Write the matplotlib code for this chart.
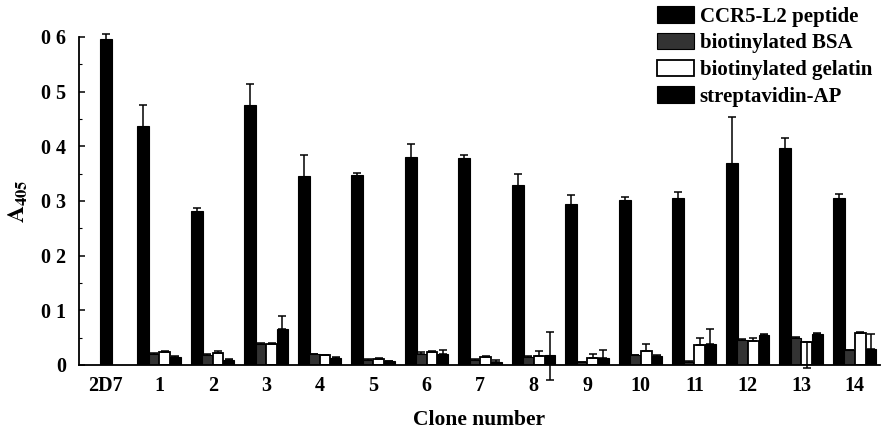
import numpy as np
import matplotlib
matplotlib.use("Agg")
import matplotlib.pyplot as plt

plt.rcParams['font.family'] = ['Liberation Serif', 'DejaVu Serif']
plt.rcParams['mathtext.fontset'] = 'stix'

# 数据：克隆编号与四种包被物的 A405 读数
clones = ['2D7', '1', '2', '3', '4', '5', '6', '7', '8', '9', '10', '11', '12', '13', '14']
series_names = ['CCR5-L2 peptide', 'biotinylated BSA', 'biotinylated gelatin', 'streptavidin-AP']

ccr5 = [0.596, 0.437, 0.282, 0.476, 0.345, 0.348, 0.380, 0.378, 0.330, 0.294,
        0.301, 0.305, 0.370, 0.397, 0.305]
ccr5_err = [0.009, 0.038, 0.006, 0.038, 0.039, 0.004, 0.025, 0.007, 0.020, 0.017,
            0.007, 0.011, 0.084, 0.019, 0.007]

bsa = [0, 0.020, 0.018, 0.038, 0.020, 0.010, 0.021, 0.010, 0.015, 0.005,
       0.018, 0.006, 0.045, 0.049, 0.027]
bsa_err = [0, 0.002, 0.002, 0.002, 0.001, 0.001, 0.002, 0.001, 0.001, 0.001,
           0.001, 0.001, 0.002, 0.002, 0.001]

gelatin = [0, 0.024, 0.022, 0.038, 0.018, 0.011, 0.024, 0.014, 0.016, 0.012,
           0.025, 0.037, 0.044, 0.042, 0.058]
gelatin_err = [0, 0.002, 0.003, 0.002, 0.001, 0.001, 0.002, 0.002, 0.010, 0.009,
               0.013, 0.012, 0.005, 0.0, 0.003]
gelatin_err_lo = [0, 0, 0, 0, 0, 0, 0, 0, 0, 0, 0, 0, 0, 0.047, 0]

strep = [0, 0.015, 0.010, 0.065, 0.013, 0.007, 0.020, 0.006, 0.018, 0.013,
         0.016, 0.038, 0.055, 0.057, 0.030]
strep_err = [0, 0.001, 0.001, 0.025, 0.001, 0.001, 0.007, 0.003, 0.042, 0.014,
             0.002, 0.028, 0.002, 0.002, 0.026]
strep_err_lo = [0, 0, 0, 0, 0, 0, 0, 0, 0.045, 0, 0, 0, 0, 0, 0]

yticks = [0, 0.1, 0.2, 0.3, 0.4, 0.5, 0.6]
ytick_labels = ['0', '0 1', '0 2', '0 3', '0 4', '0 5', '0 6']


fig = plt.figure(figsize=(8.87, 4.34), dpi=100, facecolor='white')
ax = fig.add_axes([79 / 887, 69 / 434, 801 / 887, 328 / 434])

centers = np.arange(len(clones))
w = 0.2
offsets = [-0.3, -0.1, 0.1, 0.3]
# 2D7 只有一根柱子，居中放置
ccr5_x = np.where(centers == 0, centers, centers + offsets[0])

ebar = dict(fmt='none', ecolor='black', elinewidth=1.1, capsize=3, capthick=1.1, clip_on=False)

h1 = ax.bar(ccr5_x, ccr5, width=0.22, color='black', edgecolor='black', lw=0.8)
ax.errorbar(ccr5_x, ccr5, yerr=[ccr5_err, ccr5_err], **ebar)

rest = centers[1:]
h2 = ax.bar(rest + offsets[1], bsa[1:], width=w, color='#333333', edgecolor='black', lw=0.8)
ax.errorbar(rest + offsets[1], bsa[1:], yerr=[np.zeros(len(rest)), bsa_err[1:]], **ebar)

h3 = ax.bar(rest + offsets[2], gelatin[1:], width=w, color='white', edgecolor='black', lw=1.3)
ax.errorbar(rest + offsets[2], gelatin[1:], yerr=[gelatin_err_lo[1:], gelatin_err[1:]], **ebar)

h4 = ax.bar(rest + offsets[3], strep[1:], width=w, color='black', edgecolor='black', lw=0.8)
ax.errorbar(rest + offsets[3], strep[1:], yerr=[strep_err_lo[1:], strep_err[1:]], **ebar)

ax.set_xlim(-0.5, 14.47)
ax.set_ylim(0, 0.6)

ax.spines['top'].set_visible(False)
ax.spines['right'].set_visible(False)
ax.spines['left'].set_linewidth(1.3)
ax.spines['bottom'].set_linewidth(1.3)

ax.set_xticks(centers)
ax.set_xticklabels(clones, fontsize=14.5, fontweight='bold')
ax.tick_params(axis='x', length=0, pad=8)

ax.set_yticks(yticks)
ax.set_yticklabels(ytick_labels, fontsize=14.5, fontweight='bold')
ax.set_yticks(np.arange(0.05, 0.6, 0.1), minor=True)
ax.tick_params(axis='y', which='major', direction='in', length=4, width=1.1, pad=9)
ax.tick_params(axis='y', which='minor', direction='in', length=2, width=0.8)

ax.set_xlabel('Clone number', fontsize=15.5, fontweight='bold', labelpad=10)
ax.set_ylabel(r'$\mathbf{A_{405}}$', fontsize=17, labelpad=8)

ax.legend([h1, h2, h3, h4], series_names, loc='upper left',
          bbox_to_anchor=(655 / 887, 1 - 4 / 434), bbox_transform=fig.transFigure,
          frameon=False, prop={'size': 15, 'weight': 'bold'},
          handlelength=1.75, handleheight=0.85,
          handletextpad=0.3, labelspacing=0.3, borderpad=0.1, borderaxespad=0)

fig.savefig('out.png', dpi=100, facecolor='white')
